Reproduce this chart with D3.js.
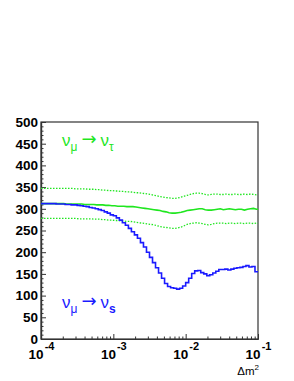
<!DOCTYPE html>
<html>
<head>
<meta charset="utf-8">
<script src="https://cdn.jsdelivr.net/npm/d3@7"></script>
<style>
  body { margin: 0; background: #fff; }
  svg text { font-family: "Liberation Sans", Arial, sans-serif; }
</style>
</head>
<body>
<div class="canvas"></div>
<script>
// 24 log bins per decade, 1e-4 .. 1e-1
const binsPerDecade = 24
const nBins = 72

// nu_mu -> nu_s (blue histogram)
const sterile = [312,312,312,312,312,311,311,311,310,310,
    309,309,308,307,306,305,303,302,300,298,
    296,293,290,286,284,279,274,268,262,255,
    247,240,232,222,212,200,188,176,164,152,
    140,128,121,118,117,115,117,122,130,140,
    151,157,158,153,150,146,148,152,156,160,
    160,161,159,161,163,164,165,167,169,166,
    167,155]

// nu_mu -> nu_tau (green, central and band)
const tauMid = [312,312,312,312,312,312,312,312,311,311,
    311,311,311,311,310,310,310,310,309,309,
    309,308,308,307,307,306,306,306,305,305,
    305,304,303,302,301,300,299,298,297,296,
    294,293,291,290,290,291,292,294,296,297,
    298,299,300,300,298,297,297,298,299,300,
    298,299,300,299,298,299,299,297,299,300,
    301,299]
const tauHigh = [347,347,347,347,347,347,347,347,347,347,
    347,346,346,346,346,345,345,345,344,344,
    343,343,342,342,341,341,340,340,339,339,
    338,337,337,336,335,334,333,331,330,328,
    327,326,325,324,324,325,327,329,331,333,
    335,336,336,335,333,332,333,334,334,333,
    333,334,333,333,334,333,333,334,333,334,
    333,332]
const tauLow = [278,278,278,278,278,278,278,278,278,278,
    278,278,277,277,277,277,277,276,276,276,
    275,275,274,274,273,273,272,272,271,271,
    270,269,268,267,266,265,264,263,261,259,
    258,257,256,255,255,256,258,261,264,266,
    267,268,267,266,264,263,264,266,267,267,
    267,266,267,267,266,267,267,266,267,267,
    266,267]

const xTicks = [1e-4, 1e-3, 1e-2, 1e-1]
const xTickExp = ["-4", "-3", "-2", "-1"]
const yTicks = [0, 50, 100, 150, 200, 250, 300, 350, 400, 450, 500]

const svg = d3.select(".canvas").append("svg")
    .attr("width", 294)
    .attr("height", 381)

const margin = { top: 122, right: 36, bottom: 42, left: 41 }
const graphWidth = 294 - margin.left - margin.right
const graphHeight = 381 - margin.top - margin.bottom

const graph = svg.append("g")
    .attr("transform", `translate(${margin.left}, ${margin.top})`)

const x = d3.scaleLog()
    .domain([1e-4, 1e-1])
    .range([0, graphWidth])
const y = d3.scaleLinear()
    .domain([0, 500])
    .range([graphHeight, 0])

const edge = i => Math.pow(10, -4 + i / binsPerDecade)
const center = i => Math.pow(10, -4 + (i + 0.5) / binsPerDecade)

// frame
graph.append("rect")
    .attr("width", graphWidth)
    .attr("height", graphHeight)
    .attr("fill", "none")
    .attr("stroke", "#333")
    .attr("stroke-width", 1.2)

// minor ticks
const minorX = []
for (let e = -4; e < -1; e++) {
    for (let m = 2; m <= 9; m++) minorX.push(m * Math.pow(10, e))
}
const minorY = d3.range(0, 501, 10).filter(v => v % 50 !== 0)

graph.append("g")
    .attr("transform", `translate(0, ${graphHeight})`)
    .call(d3.axisBottom(x).tickValues(minorX).tickFormat("").tickSizeInner(-2.5).tickSizeOuter(0))
graph.append("g")
    .call(d3.axisLeft(y).tickValues(minorY).tickFormat("").tickSizeInner(-2.5).tickSizeOuter(0))

// major axes
const xAxisGroup = graph.append("g")
    .attr("transform", `translate(0, ${graphHeight})`)
    .call(d3.axisBottom(x).tickValues(xTicks).tickFormat("").tickSizeInner(-5).tickSizeOuter(0))
const yAxisGroup = graph.append("g")
    .call(d3.axisLeft(y).tickValues(yTicks).tickSizeInner(-5).tickSizeOuter(0).tickPadding(3))

graph.selectAll(".domain").attr("stroke", "#333").attr("stroke-width", 1.2)
graph.selectAll(".tick line").attr("stroke", "#333")

yAxisGroup.selectAll("text")
    .attr("font-size", 13.5)
    .attr("font-weight", "bold")
    .attr("fill", "#000")

xAxisGroup.selectAll(".tick").each(function(d, i) {
    const t = d3.select(this).append("text")
        .attr("x", 0)
        .attr("y", 20)
        .attr("text-anchor", "middle")
        .attr("fill", "#000")
        .attr("font-weight", "bold")
        .attr("font-size", 13.5)
    t.append("tspan").text("10")
    t.append("tspan")
        .attr("dx", 1)
        .attr("dy", -9)
        .attr("font-size", 11)
        .text(xTickExp[i])
})

// axis title
const xt = svg.append("text")
    .attr("x", 259)
    .attr("y", 375)
    .attr("text-anchor", "end")
    .attr("font-size", 11.5)
    .attr("fill", "#000")
xt.append("tspan").text("Δm")
xt.append("tspan").attr("dy", -5).attr("font-size", 8).text("2")

// green curves
const bandLine = vals => {
    const pts = [[edge(0), vals[0]]]
    vals.forEach((v, i) => pts.push([center(i), v]))
    pts.push([edge(nBins), vals[nBins - 1]])
    return d3.line().x(p => x(p[0])).y(p => y(p[1]))(pts)
}
const green = "#1fe61f"
graph.append("path")
    .attr("d", bandLine(tauHigh))
    .attr("fill", "none")
    .attr("stroke", green)
    .attr("stroke-width", 1.3)
    .attr("stroke-dasharray", "1.5,1.5")
graph.append("path")
    .attr("d", bandLine(tauLow))
    .attr("fill", "none")
    .attr("stroke", green)
    .attr("stroke-width", 1.3)
    .attr("stroke-dasharray", "1.5,1.5")
graph.append("path")
    .attr("d", bandLine(tauMid))
    .attr("fill", "none")
    .attr("stroke", green)
    .attr("stroke-width", 1.6)

// blue histogram
const stepPts = sterile.map((v, i) => [edge(i), v])
stepPts.push([edge(nBins), sterile[nBins - 1]])
graph.append("path")
    .attr("d", d3.line().x(p => x(p[0])).y(p => y(p[1])).curve(d3.curveStepAfter)(stepPts))
    .attr("fill", "none")
    .attr("stroke", "#1a1aff")
    .attr("stroke-width", 1.6)

// channel labels
const label = (xp, yp, color, last, boldLast) => {
    const t = svg.append("text")
        .attr("x", xp)
        .attr("y", yp)
        .attr("fill", color)
        .attr("font-size", 17)
    t.append("tspan").text("ν")
    t.append("tspan").attr("dy", 5).attr("font-size", 12).text("μ")
    t.append("tspan").attr("dy", -6).attr("dx", 4)
        .attr("font-family", "DejaVu Sans").attr("font-size", 18).text("→")
    t.append("tspan").attr("dy", 1).attr("dx", 4).text("ν")
    t.append("tspan").attr("dy", 5).attr("font-size", 12)
        .attr("font-weight", boldLast ? "bold" : "normal").text(last)
}
label(62, 146, green, "τ", false)
label(62, 308, "#1a1aff", "s", true)
</script>
</body>
</html>
